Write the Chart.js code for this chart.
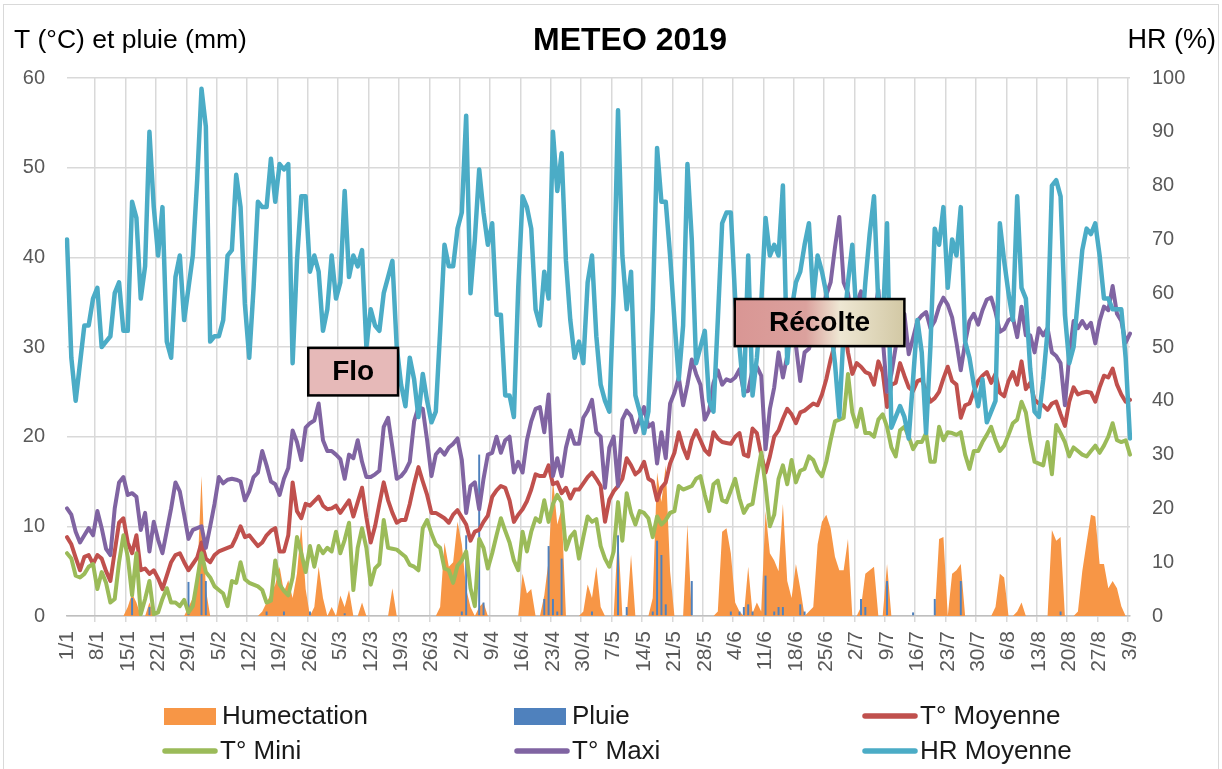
<!DOCTYPE html>
<html><head><meta charset="utf-8">
<script src="https://cdn.jsdelivr.net/npm/chart.js@4.4.1/dist/chart.umd.min.js"></script>
<style>html,body{margin:0;padding:0;background:#fff;}canvas{display:block;}</style>
</head><body>
<canvas id="c" width="1222" height="769"></canvas>
<script>
// ---- categories: every day from 1/1 to 3/9 ----
const monthLengths = [31,28,31,30,31,30,31,31,3];
const days = [];
monthLengths.forEach((n,m)=>{ for(let d=1; d<=n; d++) days.push(d+'/'+(m+1)); });
const tickEvery = 7;

// ---- series (daily values) ----
const hrMoyenne = [
70,48,40,47,54,54,59,61,50,51,
52,60,62,53,53,77,74,59,65,90,
76,67,76,51,48,63,67,55,61,67,
81,98,91,51,52,52,55,67,68,82,
76,58,48,61,77,76,76,85,77,84,
83,84,47,66,78,78,64,67,64,53,
57,67,59,62,79,63,67,65,68,50,
57,54,53,60,63,66,50,43,39,48,
44,37,45,40,36,38,53,69,65,65,
72,75,93,60,70,83,75,69,73,56,
56,41,41,37,61,78,76,72,57,54,
64,59,90,79,86,66,55,48,51,47,
62,67,52,43,40,38,60,94,67,57,
64,41,38,34,38,57,87,77,77,67,
55,44,54,84,70,47,50,53,40,38,
55,73,75,75,59,50,41,67,41,48,
58,74,67,69,67,80,47,57,62,64,
69,73,59,67,64,60,54,47,37,53,
62,69,55,51,62,71,78,58,54,73,
35,37,39,37,33,44,55,49,34,50,
72,69,76,61,70,67,76,51,48,43,
39,44,36,38,40,73,66,60,55,78,
61,59,46,38,37,44,53,80,81,78,
56,47,50,59,68,72,71,73,67,59,
59,57,57,57,48,33];

const tMaxi = [
12,11.3,9.4,8.2,9,9.8,9,11.7,9.8,7.5,
6.8,12,14.9,15.5,13.5,13.7,13.3,9.6,11.5,7.2,
10.5,8.5,7,9.5,12,14.9,13.9,11.3,8.6,9.6,
9.8,10,7.6,10,12.5,15.5,14.8,15.2,15.3,15.2,
15,12.9,13.9,15.5,16,18.4,16.8,15,14.7,13.5,
15.3,16.5,20.7,19.4,17.4,21,21.5,21.8,23.7,19.6,
18.4,18.4,18,17.5,15.3,18,17.6,19.6,17.2,15.5,
15.5,15.8,16.2,21.1,22.1,18.8,15.3,15.6,16.2,17.2,
21.7,23.3,23.1,19.6,15.6,18,18.6,18,18.8,19.2,
19.8,17.4,11.5,14.5,14.9,11.9,15.3,18,18.2,20,
18.2,19.6,20,16,17.2,16,19.6,21.7,23.1,23.3,
20.5,24.7,15.6,17.6,15.6,18.8,20.7,19.2,19.2,22.1,
22.9,24.1,20.5,20,14.3,18.8,20,14.5,21.9,22.9,
22.3,20.5,21.9,23.3,21.1,21.5,17,20.5,17.6,23.7,
24.9,26.6,23.5,25.8,28.6,27,25.8,21.9,22.9,26,
27.4,25.8,26.4,26.2,26.6,27.5,25,25.1,27.5,27.8,
26.8,18.6,23.1,25.5,29.4,26.6,29,33.3,30.2,26.2,
29.4,29.8,31.3,32.3,33.7,35.8,37.2,41.1,44.5,37.2,
36,32.9,34.9,36.2,34.5,34,33.5,36.4,31,25,
27,30,32.5,33.7,29.2,31,32.9,33.5,33.9,32.1,
32.9,34.5,35.5,34.7,33.3,30.5,27.4,30.5,32.9,33.7,
32.5,34.1,35.3,35.5,33.9,31.7,32,33,33.3,31.1,
34.5,31.3,31.3,29.4,32.1,31.3,32.1,29.4,29,28.2,
23.5,29,32.9,32.1,32.9,32.1,32.7,30.4,32.9,34.5,
34.1,36.8,33.7,32.9,30.5,31.5];

const tMoyenne = [
8.8,8,6.5,5.1,6.6,6.8,5.8,6.8,6.4,5,
3.9,7.2,10.4,10.9,8.2,7,9,5.1,5.3,4.7,
5.1,4.2,3,4.5,6,6.8,7,6,5.1,5.8,
6.5,8.2,6.4,6,6.8,7.2,7.4,7.6,7.8,8.8,
10,8.8,9,8.4,7.8,8.2,9,9.5,9.8,7.2,
7.2,9,14.9,11.7,10.9,12.5,12.3,12.8,13.3,12.3,
11.9,12,12.3,11.5,12.2,12.9,11.1,12.7,14.3,11,
8.2,10,12.5,14.9,12.9,11.5,10.4,10.7,10.7,12.5,
14.7,16.6,15,13.5,11.5,11.5,11.2,10.9,10.4,11.3,
11.8,11,10.2,8.4,9.4,9.6,10.5,11.2,13.3,14,
14.5,14.3,12.9,10.5,11.3,11.9,12.8,14.1,15.8,15.6,
15.6,16.8,14.7,14.9,13.7,14.3,13.1,14.1,14.1,14.8,
15.5,16,15.3,14.5,10.5,13,13.9,14.5,15.3,17.6,
16.8,15.8,16.2,17.2,15.3,15,12.9,14.3,14.9,17,
18.2,20.5,18.8,17.6,19.6,20.7,19.6,18.5,18,20.5,
19.8,19.4,19.3,19.2,20,20.4,18,17.8,20.9,20.4,
18,16,17.8,20,20.7,22,23.1,22.5,21.5,22.7,
22.9,23.3,23.7,23.5,24.7,26.4,28.6,30.4,32,32.9,
29.4,27,28.2,27.8,27.2,27,25.8,28.4,27.2,23.3,
25.8,26,28.2,26.8,25.5,25.1,26.2,26.4,25.1,23.9,
24.3,25,26.5,27.8,26.2,25.8,22.1,23.5,23.7,25,
26.2,26.8,27.2,26,27,24.9,24.5,26.2,27.2,25.8,
28.4,25.3,26,24.1,23.7,23.5,23,23.7,23.9,22.5,
21.2,23.9,25.5,24.7,24.9,25,24.9,23.9,25.5,26.8,
26.6,27.6,25.8,24.7,23.9,24.1];

const tMini = [
7,6.4,4.5,4.3,4.7,5.5,5.8,3,4.9,3.7,
1.5,1.9,6,9,6.6,2.3,7,0.2,1.9,3.9,
0.2,0.4,1.9,3.1,1.5,1.5,1.1,1.8,0.4,1.1,
4,7,4.9,4.3,3.3,2.9,2.5,1.1,3.9,3.7,
6,4.1,3.7,3.5,3.3,2.9,1.5,1.7,6.2,3.5,
2.8,2.3,4.3,8.8,7,4.9,7.8,5.5,7.8,7,
7.6,7.2,9.4,7,8.5,10.4,2.9,7.6,9.8,7.6,
3.5,5.3,5.8,10.7,7.6,7.5,7.4,7,6.6,5.7,
5.5,5.1,9.8,10.7,9.2,8,7.6,5.3,5.1,3.7,
5.6,6.2,7.2,3.1,1.1,8.6,7.6,5.3,7,9,
10.9,9.5,8.2,6.2,5.1,9.4,7.2,9.4,10.9,10.5,
12.9,10.5,12.5,13.5,12.7,7.4,8.8,9.4,6.4,8.8,
11.1,10.5,10.8,7.8,6.4,5.5,7.2,12.7,8.4,13.7,
11.5,10.2,11.7,11.5,10.9,8.8,11.1,10.2,10.7,11.5,
11.7,14.5,14.1,14.3,14.5,15.3,15.6,13.5,11.7,14.7,
15.1,12.9,12.7,14,15.3,13.1,11.5,12.3,12.5,15.5,
18.2,14.5,10,11.3,15.3,16.8,14.7,17.4,14.9,16.2,
16.4,17.8,17.4,16.2,15.6,17.2,19.6,21.7,21.9,22.1,
27,22.7,21.1,23.1,20.4,20.4,20,21.9,22.5,21.1,
18.8,17.8,20.7,21.1,20,18.6,19.4,19.4,20.4,17.2,
17.2,21.1,19.6,20.5,20.4,20.2,20.5,18,16.4,18.4,
18.4,19.4,20.2,21.1,19.6,18.4,19,20.2,21.5,21.9,
23.9,22.7,19.6,17.2,17,16.8,19.4,15.8,21.3,20.4,
19.4,17.8,18.8,18.4,18,17.8,18.4,19,18.2,19,
20,21.5,19.6,19.4,19.6,18];

const humectation = [
0,0,0,0,0,0,0,0,0,0,
0,0,0,0,1,2.5,1.5,0,0,1.5,
0,0,0,0,0,0,0,0,1,2,
4,15.6,3,0,0,0,0,0,0,0,
0,0,0,0,0,0.5,1.5,2.5,3.5,5.5,
2.7,4,2,4.7,10.2,3,0,1,5.5,2,
0,1,0,2.3,1,2.9,0,0,1.5,0,
0,0,0,0,0,3.1,0,0,0,0,
0,0,0,0,0,0,1,8.2,5.5,6,
10.5,8,3,1,0,1,1.5,0,0,0,
0,0,0,0,0,4.7,2.5,3,0,0,
2.3,6.2,15.3,10.2,12,0,0,0,0,0.5,
3.5,2,5.5,1,0,0,0,9.4,0,0,
6.8,0,0,0,0,2,16,12.7,16.8,5,
0,0,0,10.2,0,0,0,0,0,0,
0.5,9.4,9.8,7,1.5,0.5,0,5.5,0.3,1.5,
0.5,11.7,7,6.2,5,12.5,3.9,2,5.8,3.1,
0,0.5,1,8,10.5,11.3,9.8,6.6,5.1,5.1,
8.6,0,0,1,4.7,5.1,5.5,0,0,5.8,
0,0,0,0,0,0,0,0,0,0,
0,8.6,8.8,0,4.7,5.1,5.8,0,0,0,
0,0,0,0,1,4.7,4.3,0,0,0.5,
1.5,0,0,0,0,0,0,9.6,8.4,8.8,
0,0,0,0.5,5,8.2,11.3,11.1,5.8,5.8,
3.1,3.9,3.1,1.1,0,0];

const pluie = [
0,0,0,0,0,0,0,0,0,0,
0,0,0,0,0,2,0,0,0,1,
0,0,0,0,0,0,0,0,3.8,0,
0,4.7,3.9,0,0,0,0,0,0,0,
0,0,0,0,0,0,0.5,0,0,0,
0.5,0,0,0,0,0,0.5,0,0,0,
0,0,0,0,0.3,0,0,0,0,0,
0,0,0,0,0,0,0,0,0,0,
0,0,0,0,0,0,0,0,0,0,
0,0.5,9,0,0,18,1.5,0,0,0,
0,0,0,0,0,0,0,0,0,0,
1.9,7.8,1.9,0.5,6.4,0,0,0,0,0,
0,0.5,0,0,0,0,0,9,0,1,
0,0,0,0,0,0.5,8.4,6.8,1.3,0,
0,0,0,0,3.9,0,0,0,0,0,
0,0,0,0.5,0,0.5,1,1.3,0.5,0,
0,4.5,0,0.5,1,1,0,0,0,1.3,
0.5,0,0,0,0,0,0,0,0,0,
0,0,0,1.9,1,0,0,0,0,3.9,
0,0,0,0,0,0.4,0,0,0,0,
1.9,0,0,0,0,0,3.9,0,0,0,
0,0,0,0,0,0,0,0,0,0,
0,0,0,0,0,0,0,0,0,0.5,
0,0,0,0,0,0,0,0,0,0,
0,0,0,0,0,0];

const leftTicks = [0,10,20,30,40,50,60];
const rightTicks = [0,10,20,30,40,50,60,70,80,90,100];

// ---- annotations (in data units: day index & °C) ----
const annotations = [
  {text:'Flo', x0:55.6, x1:76.3, yTop:29.9, yBot:24.6, fill:['#E6B9B8']},
  {text:'Récolte', x0:153.9, x1:193.0, yTop:35.35, yBot:30.1, fill:['#D99694','#DBA19D','#EEE7D3','#D2C8A4']}
];

const COL = {hum:'#F79646', pluie:'#4F81BD', moy:'#C0504D', mini:'#9BBB59', maxi:'#8064A2', hr:'#4BACC6'};
const FONT = '"Liberation Sans", Arial, sans-serif';
Chart.defaults.font.family = FONT;

const lineDs = (label, data, color, order, axis, w) => ({
  type:'line', label, data, borderColor:color, backgroundColor:color, borderWidth:w,
  pointRadius:0, tension:0, fill:false, order, yAxisID:axis,
  borderJoinStyle:'round', borderCapStyle:'round'
});

const overlay = {
  id:'overlay',
  afterDraw(chart){
    const c = chart.ctx, xs = chart.scales.x, ys = chart.scales.y;
    c.save();
    // frame
    c.strokeStyle = '#d9d9d9'; c.lineWidth = 1;
    c.strokeRect(3.5, 4.5, 1215, 775);
    // titles
    c.fillStyle = '#000'; c.textBaseline = 'alphabetic';
    c.font = 'bold 32px ' + FONT; c.textAlign = 'center';
    c.fillText('METEO 2019', 630, 50);
    c.font = '26.5px ' + FONT; c.textAlign = 'left';
    c.fillText('T (°C) et pluie (mm)', 14, 48);
    c.font = '27px ' + FONT; c.textAlign = 'right';
    c.fillText('HR (%)', 1216, 48);
    // annotation boxes
    annotations.forEach(a=>{
      const l = xs.getPixelForValue(a.x0), r = xs.getPixelForValue(a.x1);
      const t = ys.getPixelForValue(a.yTop), b = ys.getPixelForValue(a.yBot);
      let f;
      if (a.fill.length === 1) f = a.fill[0];
      else { f = c.createLinearGradient(l,0,r,0);
        f.addColorStop(0,a.fill[0]); f.addColorStop(0.42,a.fill[1]);
        f.addColorStop(0.62,a.fill[2]); f.addColorStop(1,a.fill[3]); }
      c.fillStyle = f; c.fillRect(l,t,r-l,b-t);
      c.strokeStyle = '#000'; c.lineWidth = 2.5; c.strokeRect(l,t,r-l,b-t);
      c.fillStyle = '#000'; c.font = 'bold 28px ' + FONT;
      c.textAlign = 'center'; c.textBaseline = 'middle';
      c.fillText(a.text, (l+r)/2, (t+b)/2 + 1);
    });
    // legend
    const items = [
      ['Humectation', COL.hum, 'box', 164, 716], ['Pluie', COL.pluie, 'box', 514, 716], ['T° Moyenne', COL.moy, 'line', 862, 716],
      ['T° Mini', COL.mini, 'line', 162, 751], ['T° Maxi', COL.maxi, 'line', 514, 751], ['HR Moyenne', COL.hr, 'line', 862, 751]
    ];
    c.font = '26px ' + FONT; c.textAlign = 'left'; c.textBaseline = 'middle';
    items.forEach(([txt,col,kind,x,y])=>{
      if (kind === 'box') { c.fillStyle = col; c.fillRect(x, y-8, 52, 17); }
      else { c.strokeStyle = col; c.lineWidth = 5.5; c.lineCap = 'round';
        c.beginPath(); c.moveTo(x+3, y); c.lineTo(x+53, y); c.stroke(); }
      c.fillStyle = '#1a1a1a'; c.fillText(txt, x+58, y+1);
    });
    c.restore();
  }
};

new Chart(document.getElementById('c'), {
  type:'line',
  data:{ labels: days, datasets:[
    lineDs('HR Moyenne', hrMoyenne, COL.hr, 1, 'y1', 4.5),
    lineDs('T° Maxi', tMaxi, COL.maxi, 2, 'y', 4),
    lineDs('T° Mini', tMini, COL.mini, 3, 'y', 4),
    lineDs('T° Moyenne', tMoyenne, COL.moy, 4, 'y', 4),
    {type:'bar', label:'Pluie', data:pluie, backgroundColor:COL.pluie, barPercentage:0.45, categoryPercentage:1, order:5, yAxisID:'y'},
    {type:'line', label:'Humectation', data:humectation, backgroundColor:COL.hum, borderColor:COL.hum, borderWidth:0, pointRadius:0, tension:0, fill:'origin', order:6, yAxisID:'y'}
  ]},
  options:{
    responsive:false, animation:false, devicePixelRatio:1,
    layout:{padding:{top:78,left:0,right:0,bottom:0}},
    plugins:{legend:{display:false}, tooltip:{enabled:false}, title:{display:false}},
    scales:{
      x:{ offset:false,
        grid:{ color:(ctx)=> (ctx.index % tickEvery === 0 ? '#d9d9d9' : 'rgba(0,0,0,0)'), lineWidth:1.5, tickLength:6 },
        border:{ color:'#bfbfbf', width:1.5 },
        ticks:{ autoSkip:false, maxRotation:90, minRotation:90, padding:9, color:'#595959', font:{size:21},
          callback:(v,i)=> (i % tickEvery === 0 ? days[i] : '') },
        afterFit:(s)=>{ s.height = 153; }
      },
      y:{ position:'left', min:0, max:60,
        afterBuildTicks:(s)=>{ s.ticks = leftTicks.map(v=>({value:v})); },
        ticks:{ padding:22, color:'#595959', font:{size:20} },
        grid:{ color:'#d9d9d9', lineWidth:1.5, drawTicks:false },
        border:{ display:false },
        afterFit:(s)=>{ s.width = 67; }
      },
      y1:{ position:'right', min:0, max:100,
        afterBuildTicks:(s)=>{ s.ticks = rightTicks.map(v=>({value:v})); },
        ticks:{ padding:22, color:'#595959', font:{size:20} },
        grid:{ drawOnChartArea:false, drawTicks:false },
        border:{ display:false },
        afterFit:(s)=>{ s.width = 92; }
      }
    }
  },
  plugins:[overlay]
});
</script>
</body></html>
